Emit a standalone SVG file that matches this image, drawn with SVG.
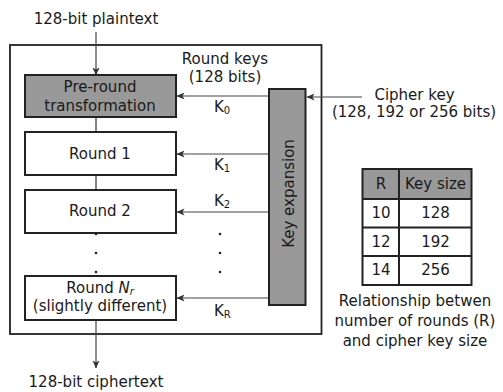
<svg xmlns="http://www.w3.org/2000/svg" width="503" height="392" viewBox="0 0 503 392">
<style>
text{font-family:"DejaVu Sans","Verdana",sans-serif;font-size:15px;fill:#1a1a1a}
.c{text-anchor:middle}
.sub{font-size:10px}
.box{stroke:#222;stroke-width:2;fill:#fff}
.grey{fill:#999}
.ln{stroke:#333;stroke-width:1.2;fill:none}
.arr{stroke:#444;stroke-width:1.2;fill:none;marker-end:url(#ah)}
.tb{stroke:#222;stroke-width:2;fill:none}
</style>
<defs>
<marker id="ah" viewBox="0 0 8 8" refX="7.5" refY="4" markerWidth="8" markerHeight="8" markerUnits="userSpaceOnUse" orient="auto">
<path d="M0,0.5 L8,4 L0,7.5 L2,4 Z" fill="#333"/>
</marker>
</defs>
<rect id="outer" x="10" y="45" width="311.5" height="289" fill="none" stroke="#222" stroke-width="1.8"/>
<text class="c" x="96" y="24">128-bit plaintext</text>
<text class="c" x="96" y="387">128-bit ciphertext</text>
<g id="connectors">
<line class="arr" x1="96" y1="32" x2="96" y2="75"/>
<line class="ln" x1="96" y1="117" x2="96" y2="132"/>
<line class="ln" x1="96" y1="175" x2="96" y2="190"/>
<line class="arr" x1="96" y1="320" x2="96" y2="368"/>
<line class="arr" x1="269" y1="96" x2="177" y2="96"/>
<line class="arr" x1="269" y1="154" x2="177" y2="154"/>
<line class="arr" x1="269" y1="212" x2="177" y2="212"/>
<line class="arr" x1="269" y1="298" x2="177" y2="298"/>
<line class="arr" x1="362" y1="97" x2="307" y2="97"/>
</g>
<g id="preround">
<rect class="box grey" x="25" y="75" width="151" height="42"/>
<text class="c" x="100" y="92">Pre-round</text>
<text class="c" x="100" y="111">transformation</text>
</g>
<g id="round1">
<rect class="box" x="25" y="132" width="151" height="43"/>
<text class="c" x="100" y="159">Round 1</text>
</g>
<g id="round2">
<rect class="box" x="25" y="190" width="151" height="43"/>
<text class="c" x="100" y="216">Round 2</text>
</g>
<g id="dots">
<circle cx="96" cy="234" r="1.3" fill="#222"/>
<circle cx="96" cy="253" r="1.3" fill="#222"/>
<circle cx="96" cy="272" r="1.3" fill="#222"/>
<circle cx="220" cy="234" r="1.3" fill="#222"/>
<circle cx="220" cy="253" r="1.3" fill="#222"/>
<circle cx="220" cy="272" r="1.3" fill="#222"/>
</g>
<g id="roundN">
<rect class="box" x="25" y="276" width="151" height="44"/>
<text class="c" x="100" y="293">Round <tspan font-style="italic">N</tspan><tspan class="sub" font-style="italic" dy="2">r</tspan></text>
<text class="c" x="100" y="311">(slightly different)</text>
</g>
<g id="keyexp">
<rect class="box grey" x="269" y="89" width="36.5" height="216"/>
<text class="c" transform="translate(293.5,193.5) rotate(-90)" x="0" y="0" font-size="14">Key expansion</text>
</g>
<g id="labels">
<text class="c" x="225" y="64">Round keys</text>
<text class="c" x="225" y="82">(128 bits)</text>
<text x="214" y="112">K<tspan class="sub" dy="2">0</tspan></text>
<text x="214" y="170">K<tspan class="sub" dy="2">1</tspan></text>
<text x="214" y="206">K<tspan class="sub" dy="2">2</tspan></text>
<text x="214" y="316">K<tspan class="sub" dy="2">R</tspan></text>
</g>
<g id="cipherkey">
<text class="c" x="414.5" y="100">Cipher key</text>
<text class="c" x="414" y="117">(128, 192 or 256 bits)</text>
</g>
<g id="table">
<rect x="362.5" y="169" width="109" height="30" fill="#999"/>
<rect class="tb" x="362.5" y="169" width="109" height="116"/>
<line class="tb" x1="399" y1="169" x2="399" y2="285"/>
<line class="tb" x1="362.5" y1="199" x2="471.5" y2="199"/>
<line class="tb" x1="362.5" y1="227.5" x2="471.5" y2="227.5"/>
<line class="tb" x1="362.5" y1="256" x2="471.5" y2="256"/>
<text class="c" x="381" y="189">R</text>
<text class="c" x="435.5" y="189">Key size</text>
<text class="c" x="381" y="218">10</text>
<text class="c" x="435.5" y="218">128</text>
<text class="c" x="381" y="247">12</text>
<text class="c" x="435.5" y="247">192</text>
<text class="c" x="381" y="275">14</text>
<text class="c" x="435.5" y="275">256</text>
</g>
<g id="caption">
<text class="c" x="415" y="306">Relationship betwen</text>
<text class="c" x="415" y="326">number of rounds (R)</text>
<text class="c" x="415" y="346">and cipher key size</text>
</g>
</svg>
